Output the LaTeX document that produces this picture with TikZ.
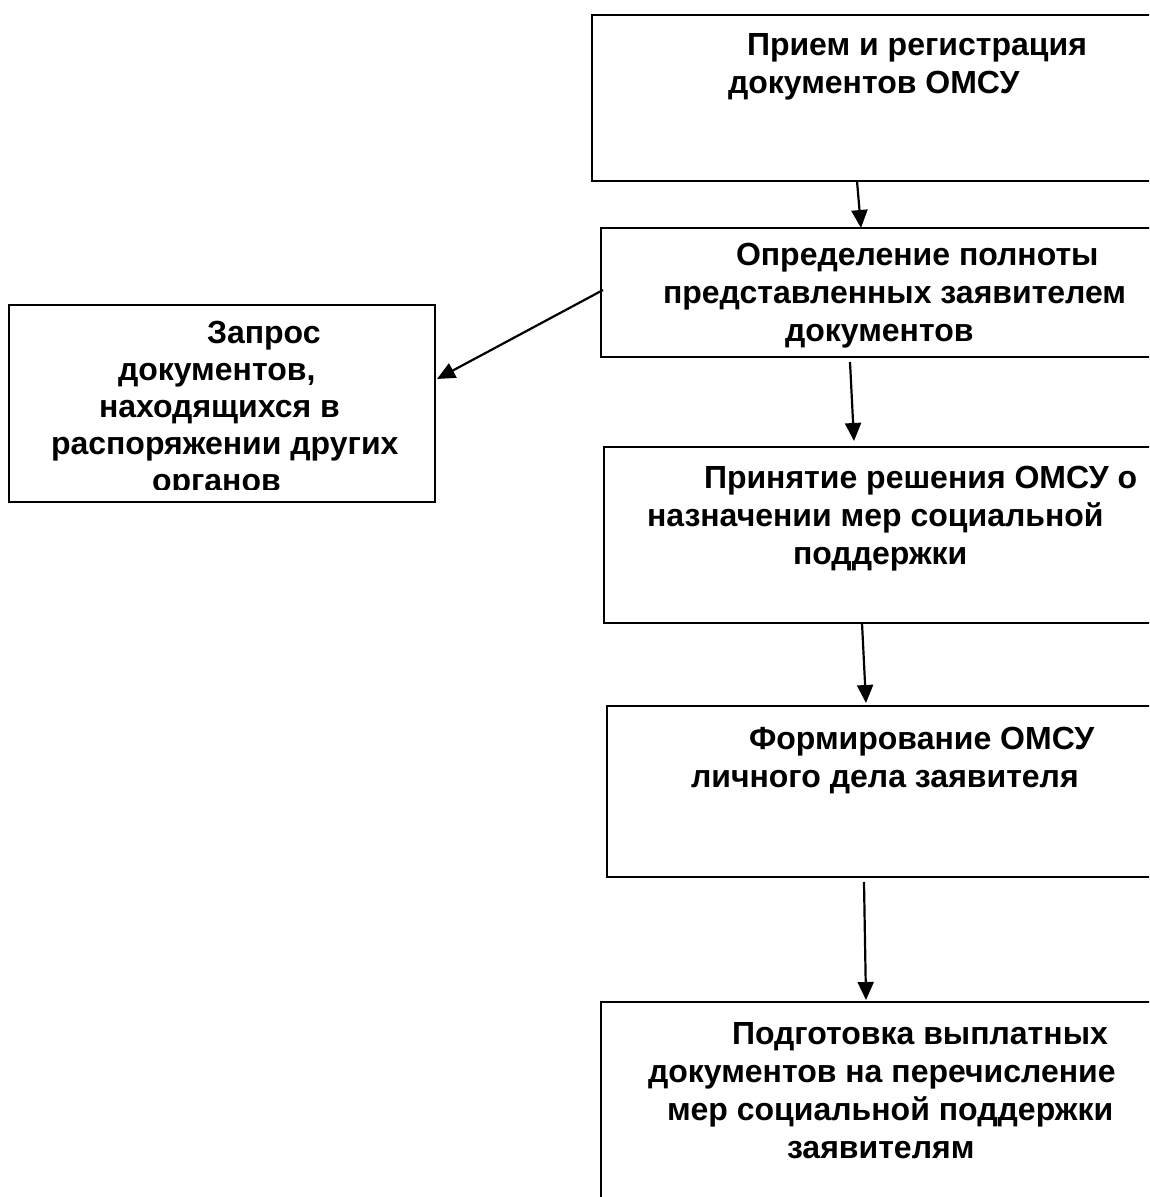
\documentclass[tikz,border=0pt]{standalone}
\usepackage{fontspec}
\setmainfont{Liberation Sans}
\usetikzlibrary{arrows.meta,calc}
\begin{document}
\begin{tikzpicture}[x=1pt,y=-1pt,
  box/.style={draw=black, line width=2.2pt, fill=none, inner sep=0pt, outer sep=0pt, anchor=north west},
  txt/.style={inner sep=0pt, outer sep=0pt, anchor=base west, align=left,
    font=\fontsize{32}{38}\selectfont\bfseries},
  arr/.style={draw=black, line width=2.2pt, -{Triangle[width=16pt,length=18pt]}}]
\useasboundingbox (0,0) rectangle (1149,1197);
\clip (0,0) rectangle (1149,1197);

% boxes
\node[box, minimum width=578pt, minimum height=166pt] (b1) at (592,15) {};
\node[box, minimum width=569pt, minimum height=129pt] (b2) at (601,228) {};
\node[box, minimum width=426pt, minimum height=197pt] (b3) at (9,305) {};
\node[box, minimum width=566pt, minimum height=176pt] (b4) at (604,447) {};
\node[box, minimum width=563pt, minimum height=171pt] (b5) at (607,706) {};
\node[box, minimum width=569pt, minimum height=220pt] (b6) at (601,1002) {};

% texts (anchor is the baseline of the last line)
\node[txt] (t1) at (728,93) {\hspace*{19pt}Прием и регистрация\\документов ОМСУ};
\node[txt] (t2) at (663,341) {\hspace*{73pt}Определение полноты\\представленных заявителем\\\hspace*{122pt}документов};
\begin{scope}
  \clip (9,305) rectangle (435,489);
  \node[txt, font=\fontsize{32}{37}\selectfont\bfseries] (t3) at (51,491) {\hspace*{156pt}Запрос\\\hspace*{67pt}документов,\\\hspace*{48pt}находящихся в\\распоряжении других\\\hspace*{101pt}органов};
\end{scope}
\node[txt] (t4) at (647,564) {\hspace*{57pt}Принятие решения ОМСУ о\\назначении мер социальной\\\hspace*{146pt}поддержки};
\node[txt] (t5) at (691,787) {\hspace*{58pt}Формирование ОМСУ\\личного дела заявителя};
\node[txt] (t6) at (648,1158) {\hspace*{84pt}Подготовка выплатных\\документов на перечисление\\\hspace*{19pt}мер социальной поддержки\\\hspace*{139pt}заявителям};

% connectors
\draw[arr] ([xshift=265pt]b1.south west) -- ([xshift=260pt]b2.north west);
\draw[arr] ([xshift=2pt,yshift=-62pt]b2.north west) -- ([xshift=2pt,yshift=-74pt]b3.north east);
\draw[arr] ([xshift=249pt,yshift=-5pt]b2.south west) -- ([xshift=250pt,yshift=6pt]b4.north west);
\draw[arr] ([xshift=258pt]b4.south west) -- ([xshift=259pt,yshift=3pt]b5.north west);
\draw[arr] ([xshift=257pt,yshift=-5pt]b5.south west) -- ([xshift=265pt,yshift=2pt]b6.north west);
\end{tikzpicture}
\end{document}
